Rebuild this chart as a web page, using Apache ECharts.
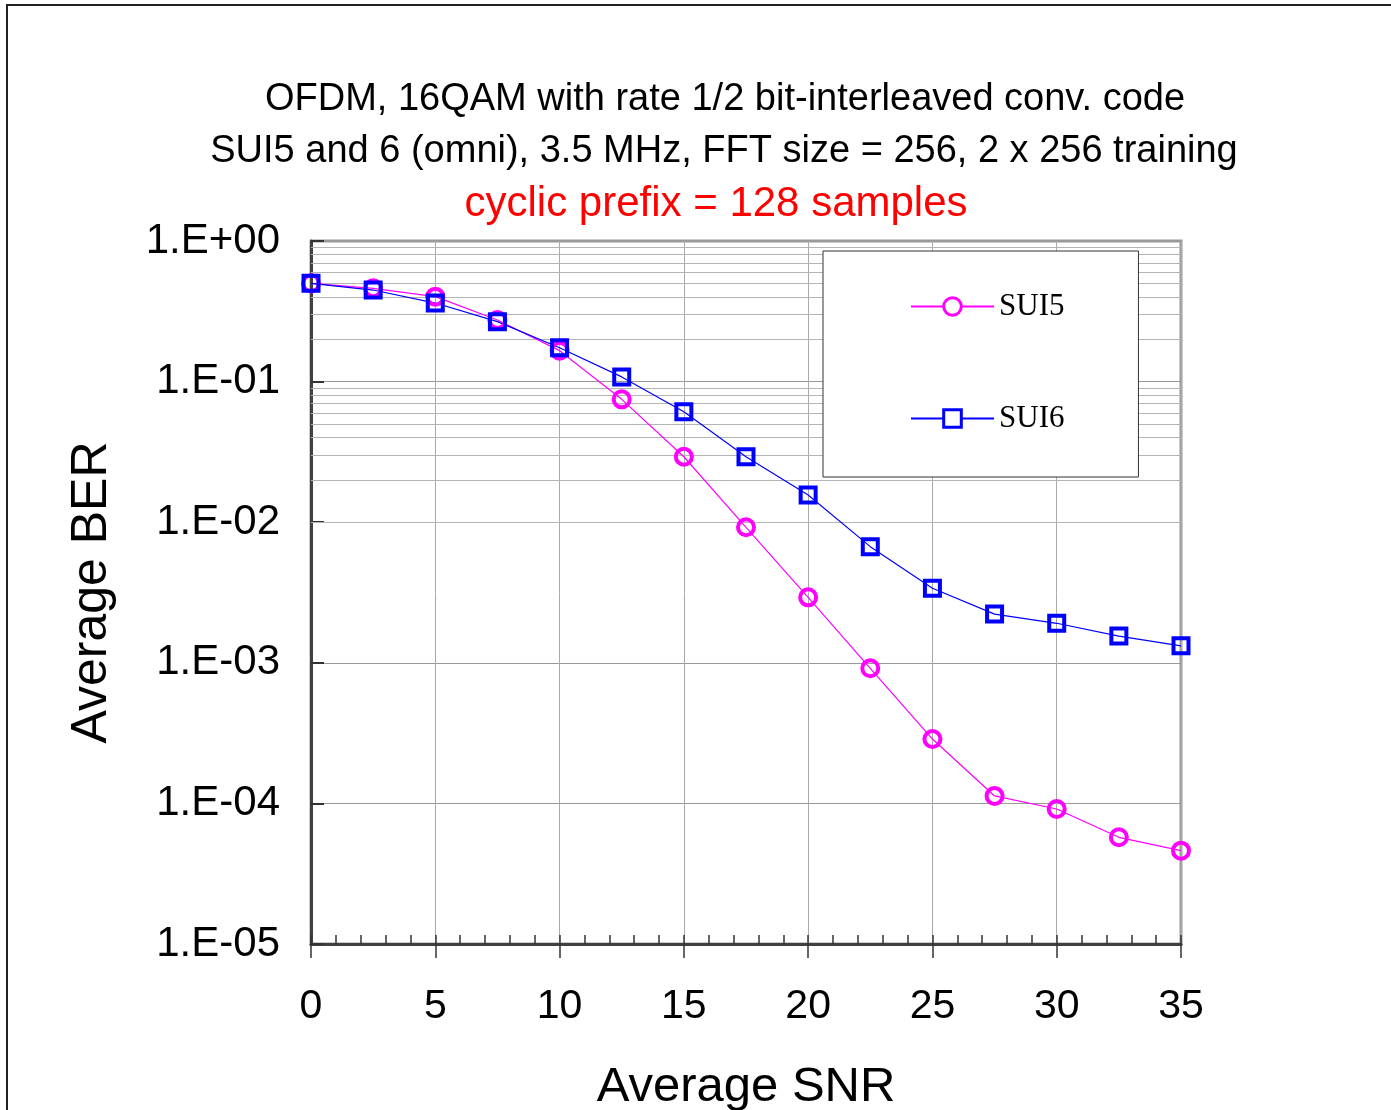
<!DOCTYPE html>
<html>
<head>
<meta charset="utf-8">
<script src="https://cdn.jsdelivr.net/npm/echarts@6/dist/echarts.min.js"></script>
<style>
html,body{margin:0;padding:0;background:#fff;}
#chart{width:1391px;height:1110px;}
</style>
</head>
<body>
<div id="chart"></div>
<script>
// ---- data ----
var snr = [0, 2.5, 5, 7.5, 10, 12.5, 15, 17.5, 20, 22.5, 25, 27.5, 30, 32.5, 35];
var sui5 = [0.50, 0.461, 0.402, 0.274, 0.166, 0.0748, 0.0292, 0.0092, 0.00292, 0.000914, 0.000287, 0.000113, 0.0000912, 0.0000574, 0.0000461];
var sui6 = [0.50, 0.448, 0.362, 0.267, 0.174, 0.108, 0.0611, 0.0292, 0.0156, 0.0067, 0.00339, 0.00222, 0.00191, 0.00155, 0.00132];
var seriesNames = ['SUI5', 'SUI6'];
var titleLines = [
  'OFDM, 16QAM with rate 1/2 bit-interleaved conv. code',
  'SUI5 and 6 (omni), 3.5 MHz, FFT size = 256, 2 x 256 training',
  'cyclic prefix = 128 samples'
];
var xName = 'Average SNR';
var yName = 'Average BER';
var xMin = 0, xMax = 35, xStep = 5;
var yMin = 1e-5, yMax = 1;

function pairs(xs, ys) { return xs.map(function (x, i) { return [x, ys[i]]; }); }

// minor log grid lines (2..9 in each decade)
var minorGrid = [];
for (var e = -5; e < 0; e++) {
  for (var m = 2; m <= 9; m++) minorGrid.push({ yAxis: m * Math.pow(10, e) });
}

function expLabel(v) {
  var ex = Math.round(Math.log10(v));
  var s = ex < 0 ? '-' : '+';
  var a = Math.abs(ex);
  return '1.E' + s + (a < 10 ? '0' + a : a);
}

var FONT = 'Liberation Sans';
var markerStroke = 4;
var chart = echarts.init(document.getElementById('chart'));
chart.setOption({
  animation: false,
  backgroundColor: '#ffffff',
  title: [
    { text: titleLines[0], left: 725, top: 81, padding: 0, textAlign: 'center',
      textStyle: { fontFamily: FONT, fontSize: 38, fontWeight: 'normal', color: '#000' } },
    { text: titleLines[1], left: 724, top: 133, padding: 0, textAlign: 'center',
      textStyle: { fontFamily: FONT, fontSize: 38, fontWeight: 'normal', color: '#000' } },
    { text: titleLines[2], left: 716, top: 183, padding: 0, textAlign: 'center',
      textStyle: { fontFamily: FONT, fontSize: 42, fontWeight: 'normal', color: '#ff0000' } }
  ],
  graphic: [
    { type: 'rect', shape: { x: 7, y: 5, width: 1420, height: 1200 },
      style: { fill: 'none', stroke: '#222', lineWidth: 2 }, silent: true }
  ],
  legend: {
    data: seriesNames,
    orient: 'vertical',
    left: 823,
    top: 251,
    padding: [40, 74, 43, 87],
    itemGap: 81,
    itemWidth: 83,
    itemHeight: 22,
    backgroundColor: '#ffffff',
    borderColor: '#333',
    borderWidth: 1,
    borderRadius: 0,
    itemStyle: { borderWidth: 3, color: '#ffffff' },
    textStyle: { fontFamily: 'Liberation Serif', fontSize: 31, color: '#000' }
  },
  grid: {
    left: 311, right: 210, top: 241, bottom: 166,
    outerBoundsMode: 'none', containLabel: false,
    show: true, borderColor: '#9a9a9a', borderWidth: 3, backgroundColor: 'transparent'
  },
  xAxis: [
    {
      type: 'value', min: xMin, max: xMax, interval: xStep, position: 'bottom',
      name: xName, nameLocation: 'middle', nameGap: 119,
      nameTextStyle: { fontFamily: FONT, fontSize: 49, color: '#000' },
      axisLine: { show: true, lineStyle: { color: '#404040', width: 3 } },
      axisTick: { show: true, inside: false, length: 14, lineStyle: { color: '#333', width: 1.5 } },
      axisLabel: { margin: 42, fontFamily: FONT, fontSize: 41, color: '#000' },
      splitLine: { show: true, lineStyle: { color: '#aaaaaa', width: 1 } }
    },
    {
      type: 'value', min: xMin, max: xMax, interval: xStep, position: 'bottom',
      axisLine: { show: false },
      axisTick: { show: true, inside: true, length: 9, lineStyle: { color: '#333', width: 1.5 } },
      minorTick: { show: true, splitNumber: 5, length: 9, lineStyle: { color: '#333', width: 1.5 } },
      axisLabel: { show: false },
      splitLine: { show: false }
    }
  ],
  yAxis: {
    type: 'log', logBase: 10, min: yMin, max: yMax,
    name: yName, nameLocation: 'middle', nameGap: 194,
    nameTextStyle: { fontFamily: FONT, fontSize: 50, color: '#000' },
    axisLine: { show: true, lineStyle: { color: '#404040', width: 3 } },
    axisTick: { show: true, inside: true, length: 13, lineStyle: { color: '#333', width: 2 } },
    axisLabel: { margin: 31, fontFamily: FONT, fontSize: 42, color: '#000', formatter: expLabel },
    splitLine: { show: true, lineStyle: { color: '#999999', width: 1 } }
  },
  series: [
    {
      name: seriesNames[0], type: 'line', data: pairs(snr, sui5),
      xAxisIndex: 0, yAxisIndex: 0,
      symbol: 'circle', symbolSize: 16,
      lineStyle: { color: '#ff00ff', width: 1.2 },
      itemStyle: { color: 'rgba(255,255,255,0)', borderColor: '#ff00ff', borderWidth: markerStroke },
      markLine: {
        silent: true, z: 1, symbol: ['none', 'none'], animation: false,
        label: { show: false },
        lineStyle: { color: '#b4b4b4', width: 1, type: 'solid' },
        emphasis: { disabled: true },
        data: minorGrid
      }
    },
    {
      name: seriesNames[1], type: 'line', data: pairs(snr, sui6),
      xAxisIndex: 0, yAxisIndex: 0,
      symbol: 'rect', symbolSize: 15,
      lineStyle: { color: '#0000ff', width: 1.2 },
      itemStyle: { color: 'rgba(255,255,255,0)', borderColor: '#0000ff', borderWidth: markerStroke }
    }
  ]
});
</script>
</body>
</html>
